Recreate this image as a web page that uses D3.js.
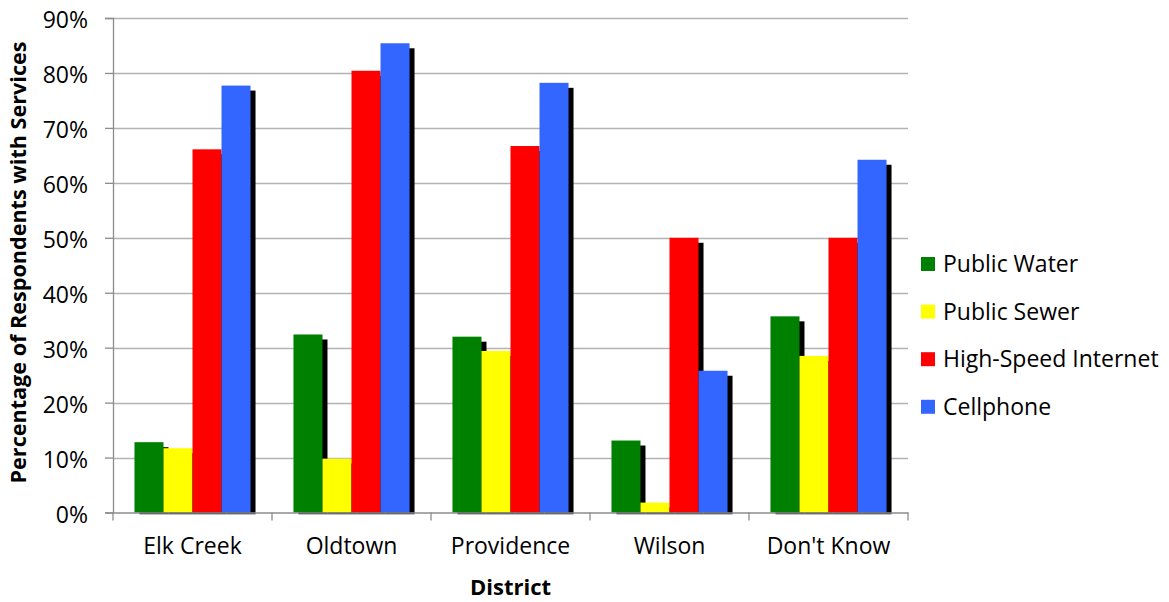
<!DOCTYPE html>
<html>
<head>
<meta charset="utf-8">
<script src="https://cdn.jsdelivr.net/npm/d3@7"></script>
<style>
  html, body { margin: 0; padding: 0; background: #fff; }
  svg { display: block; }
  text { font-family: "Open Sans", sans-serif; fill: #000; }
</style>
</head>
<body>
<svg id="chart" width="1169" height="602"></svg>
<script>
const categories = ["Elk Creek", "Oldtown", "Providence", "Wilson", "Don't Know"];
const seriesNames = ["Public Water", "Public Sewer", "High-Speed Internet", "Cellphone"];
const publicWater = [12.8, 32.4, 32.0, 13.1, 35.7];
const publicSewer = [11.7, 9.8, 29.4, 1.8, 28.5];
const highSpeedInternet = [66.1, 80.4, 66.7, 50.0, 50.0];
const cellphone = [77.7, 85.4, 78.2, 25.8, 64.2];
const yTicks = [0, 10, 20, 30, 40, 50, 60, 70, 80, 90];
const colors = ["#008000", "#FFFF00", "#FF0000", "#3366FF"];

const seriesValues = [publicWater, publicSewer, highSpeedInternet, cellphone];

const svg = d3.select("#chart");
const pLeft = 113, pRight = 908, pTop = 18, pBottom = 512.5;
const FONT = "'Open Sans', sans-serif";

const x0 = d3.scaleBand().domain(categories).range([pLeft, pRight]).paddingInner(0).paddingOuter(0);
const x1 = d3.scaleBand().domain(seriesNames).range([0, x0.bandwidth()]).paddingInner(0).paddingOuter(0.74);
const y = d3.scaleLinear().domain([0, 90]).range([pBottom, pTop]);

// gridlines
svg.append("g").selectAll("line").data(yTicks.filter(d => d > 0)).join("line")
  .attr("x1", pLeft).attr("x2", pRight)
  .attr("y1", d => Math.round(y(d)) + 0.5).attr("y2", d => Math.round(y(d)) + 0.5)
  .attr("stroke", "#b3b3b3").attr("stroke-width", 1.3);

// clip for shadows
svg.append("clipPath").attr("id", "plotclip").append("rect")
  .attr("x", pLeft).attr("y", 0).attr("width", pRight - pLeft + 10).attr("height", pBottom + 1.8);

const gBars = svg.append("g");
seriesNames.forEach((s, si) => {
  const vals = seriesValues[si];
  const g = gBars.append("g");
  g.append("g").attr("clip-path", "url(#plotclip)").selectAll("rect").data(vals).join("rect")
    .attr("x", (d, i) => x0(categories[i]) + x1(s) + 5)
    .attr("y", d => y(d) + 5)
    .attr("width", x1.bandwidth())
    .attr("height", d => pBottom - y(d))
    .attr("fill", "#000");
  g.append("g").selectAll("rect").data(vals).join("rect")
    .attr("x", (d, i) => x0(categories[i]) + x1(s))
    .attr("y", d => y(d))
    .attr("width", x1.bandwidth())
    .attr("height", d => pBottom - y(d))
    .attr("fill", colors[si]);
});

// y axis
const yAxis = d3.axisLeft(y).tickValues(yTicks).tickFormat(d => d + "%").tickSize(8).tickPadding(17);
const gy = svg.append("g").attr("transform", `translate(${pLeft},0)`).call(yAxis);
gy.select(".domain").attr("stroke", "#8c8c8c").attr("stroke-width", 1.3);
gy.selectAll(".tick line").attr("stroke", "#8c8c8c").attr("stroke-width", 1.3);
gy.selectAll(".tick text").style("font-size", "23px").style("font-family", FONT)
  .attr("fill", "#000").attr("x", -25).attr("dy", "0.42em");

// x axis
const xAxis = d3.axisBottom(x0).tickSize(0).tickPadding(24);
const gx = svg.append("g").attr("transform", `translate(0,${pBottom})`).call(xAxis);
gx.select(".domain").attr("stroke", "#8c8c8c").attr("stroke-width", 1.3);
gx.selectAll(".tick text").style("font-size", "23px").style("font-family", FONT)
  .attr("fill", "#000").attr("y", 41).attr("dy", 0);
// category boundary ticks
const bounds = categories.map(c => x0(c)).concat([pRight]);
gx.append("g").selectAll("line").data(bounds).join("line")
  .attr("x1", d => d).attr("x2", d => d).attr("y1", 0).attr("y2", 8)
  .attr("stroke", "#8c8c8c").attr("stroke-width", 1.3);

// axis titles
svg.append("text").attr("x", (pLeft + pRight) / 2).attr("y", 595)
  .attr("text-anchor", "middle").style("font-size", "22px").style("font-weight", "bold")
  .text("District");
svg.append("text").attr("transform", `translate(26,262.5) rotate(-90)`)
  .attr("text-anchor", "middle").style("font-size", "21.6px").style("font-weight", "bold")
  .text("Percentage of Respondents with Services");

// legend
const lg = svg.append("g").selectAll("g").data(seriesNames).join("g")
  .attr("transform", (d, i) => `translate(921,${264 + i * 47.6})`);
lg.append("rect").attr("x", 0).attr("y", -7).attr("width", 14).attr("height", 14)
  .attr("fill", (d, i) => colors[i]);
lg.append("text").attr("x", 22).attr("y", 0).attr("dy", "0.35em")
  .style("font-size", "23px").text(d => d);
</script>
</body>
</html>
